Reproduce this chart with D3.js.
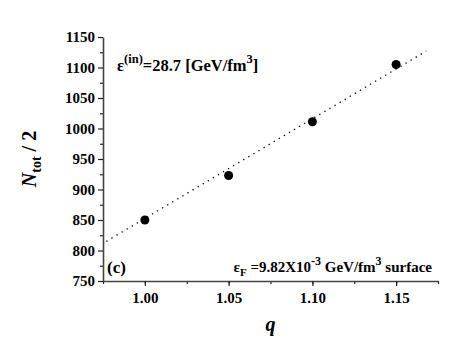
<!DOCTYPE html>
<html>
<head>
<meta charset="utf-8">
<script src="https://cdn.jsdelivr.net/npm/d3@7"></script>
<style>
  body { margin: 0; background: #fff; }
  svg text { font-family: "Liberation Serif", "Times New Roman", serif; font-weight: bold; fill: #000; }
</style>
</head>
<body>
<div id="chart"></div>
<script>
// data
var qValues = [1.00, 1.05, 1.10, 1.15];
var nHalf = [850, 923, 1011, 1105];
// dotted fit line, end points
var fitQ = [0.977, 1.168];
var fitN = [815, 1127];
var xTicks = [1.00, 1.05, 1.10, 1.15];
var yTicks = [750, 800, 850, 900, 950, 1000, 1050, 1100, 1150];

var svgWidth = 463, svgHeight = 355;
var margin = { top: 37, right: 25, bottom: 74, left: 103 };
var chartWidth = svgWidth - margin.left - margin.right;
var chartHeight = svgHeight - margin.top - margin.bottom;
var serif = "'Liberation Serif', 'Times New Roman', serif";

var svg = d3.select("#chart").append("svg")
  .attr("width", svgWidth)
  .attr("height", svgHeight);

var chartGroup = svg.append("g")
  .attr("transform", `translate(${margin.left}, ${margin.top})`);

var xScale = d3.scaleLinear().domain([0.975, 1.175]).range([0, chartWidth]);
var yScale = d3.scaleLinear().domain([750, 1150]).range([chartHeight, 0]);

// minor ticks first
chartGroup.append("g")
  .attr("transform", `translate(0, ${chartHeight})`)
  .call(d3.axisBottom(xScale).tickValues(d3.range(0.975, 1.18, 0.025)).tickSize(3).tickFormat(""))
  .call(g => g.select(".domain").remove());
chartGroup.append("g")
  .call(d3.axisLeft(yScale).tickValues(d3.range(775, 1150, 50)).tickSize(3).tickFormat(""))
  .call(g => g.select(".domain").remove());

var bottomAxis = chartGroup.append("g")
  .attr("class", "axis")
  .attr("transform", `translate(0, ${chartHeight})`)
  .call(d3.axisBottom(xScale).tickValues(xTicks).tickSize(5).tickSizeOuter(0).tickPadding(6)
    .tickFormat(d3.format(".2f")));

var leftAxis = chartGroup.append("g")
  .attr("class", "axis")
  .call(d3.axisLeft(yScale).tickValues(yTicks).tickSize(5).tickSizeOuter(0).tickPadding(3)
    .tickFormat(d3.format("d")));

svg.selectAll("g").attr("font-family", null);
svg.selectAll(".axis text")
  .style("font-size", "15px")
  .style("font-family", serif)
  .style("font-weight", "bold");
svg.selectAll(".tick line").attr("stroke", "#222").attr("stroke-width", 1.2);
svg.selectAll(".domain").attr("stroke", "#444").attr("stroke-width", 1.6);

// fit line
var line = d3.line().x(d => xScale(d[0])).y(d => yScale(d[1]));
chartGroup.append("path")
  .datum(d3.zip(fitQ, fitN))
  .attr("d", line)
  .attr("fill", "none")
  .attr("stroke", "#000")
  .attr("stroke-width", 1.3)
  .attr("stroke-dasharray", "1.3,4.6");

// points
chartGroup.selectAll("circle.dot")
  .data(d3.zip(qValues, nHalf))
  .enter().append("circle")
  .attr("class", "dot")
  .attr("cx", d => xScale(d[0]))
  .attr("cy", d => yScale(d[1]))
  .attr("r", 4.5)
  .attr("fill", "#000");

// axis titles
svg.append("text")
  .attr("x", margin.left + chartWidth / 2)
  .attr("y", 331)
  .attr("text-anchor", "middle")
  .style("font-family", serif)
  .style("font-size", "20px")
  .style("font-style", "italic")
  .text("q");

var yTitle = svg.append("text")
  .attr("transform", `translate(36, ${margin.top + chartHeight / 2}) rotate(-90)`)
  .attr("text-anchor", "middle")
  .style("font-family", serif)
  .style("font-size", "20px");
yTitle.append("tspan").style("font-style", "italic").text("N");
yTitle.append("tspan").attr("dy", 5).style("font-size", "14px").text("tot");
yTitle.append("tspan").attr("dy", -5).text(" / 2");

// annotations
var ann1 = svg.append("text")
  .attr("x", 117).attr("y", 71)
  .style("font-family", serif)
  .style("font-size", "16.5px");
ann1.append("tspan").text("ε");
ann1.append("tspan").attr("dy", -8).style("font-size", "12.5px").text("(in)");
ann1.append("tspan").attr("dy", 8).text("=28.7 [GeV/fm");
ann1.append("tspan").attr("dy", -8).style("font-size", "12.5px").text("3");
ann1.append("tspan").attr("dy", 8).text("]");

svg.append("text")
  .attr("x", 107).attr("y", 273)
  .style("font-family", serif)
  .style("font-size", "17px")
  .text("(c)");

var ann2 = svg.append("text")
  .attr("x", 432).attr("y", 272)
  .attr("text-anchor", "end")
  .style("font-family", serif)
  .style("font-size", "15px");
ann2.append("tspan").text("ε");
ann2.append("tspan").attr("dy", 4).style("font-size", "11px").text("F");
ann2.append("tspan").attr("dy", -4).text(" =9.82X10");
ann2.append("tspan").attr("dy", -7).style("font-size", "12px").text("-3");
ann2.append("tspan").attr("dy", 7).text(" GeV/fm");
ann2.append("tspan").attr("dy", -7).style("font-size", "12px").text("3");
ann2.append("tspan").attr("dy", 7).text(" surface");
</script>
</body>
</html>
